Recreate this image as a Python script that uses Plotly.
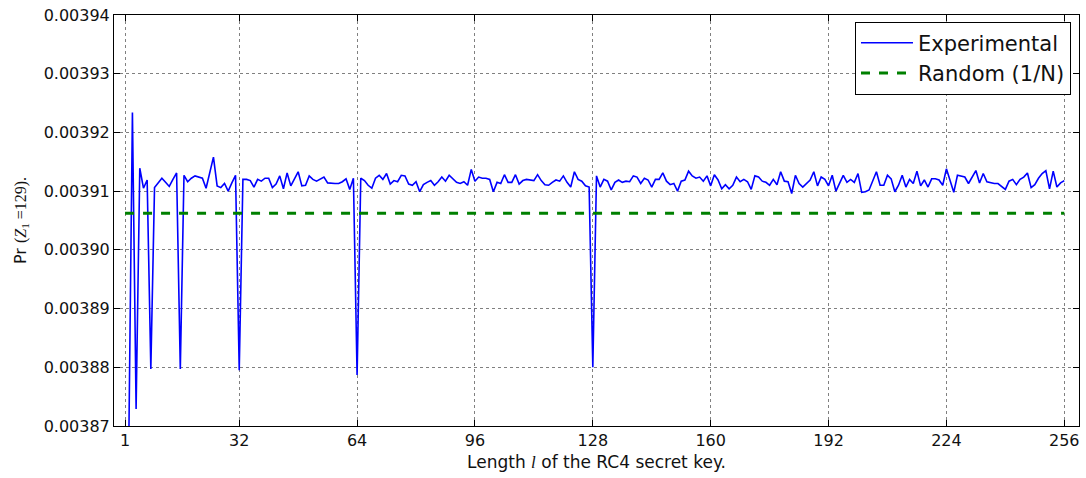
import plotly.graph_objects as go

key_length = list(range(1, 257))

experimental = [
    0.0038620, 0.0038660, 0.0039234, 0.0038729, 0.0039139, 0.0039105, 0.0039119, 0.0038797,
    0.0039106, 0.0039114, 0.0039122, 0.0039115, 0.0039108, 0.0039120, 0.0039131, 0.0038797,
    0.0039127, 0.0039116, 0.0039122, 0.0039126, 0.0039124, 0.0039122, 0.0039105, 0.0039130,
    0.0039158, 0.0039109, 0.0039106, 0.0039113, 0.0039100, 0.0039114, 0.0039127, 0.0038795,
    0.0039120, 0.0039120, 0.0039118, 0.0039107, 0.0039120, 0.0039117, 0.0039122, 0.0039122,
    0.0039106, 0.0039112, 0.0039126, 0.0039104, 0.0039131, 0.0039109, 0.0039120, 0.0039133,
    0.0039109, 0.0039110, 0.0039126, 0.0039120, 0.0039117, 0.0039121, 0.0039124, 0.0039114,
    0.0039113, 0.0039113, 0.0039113, 0.0039116, 0.0039121, 0.0039103, 0.0039122, 0.0038787,
    0.0039122, 0.0039118, 0.0039110, 0.0039105, 0.0039122, 0.0039127, 0.0039120, 0.0039130,
    0.0039112, 0.0039118, 0.0039116, 0.0039127, 0.0039126, 0.0039112, 0.0039110, 0.0039116,
    0.0039099, 0.0039111, 0.0039115, 0.0039118, 0.0039110, 0.0039116, 0.0039124, 0.0039117,
    0.0039127, 0.0039121, 0.0039115, 0.0039113, 0.0039116, 0.0039110, 0.0039137, 0.0039117,
    0.0039124, 0.0039122, 0.0039122, 0.0039120, 0.0039099, 0.0039115, 0.0039113, 0.0039128,
    0.0039115, 0.0039115, 0.0039128, 0.0039112, 0.0039118, 0.0039120, 0.0039119, 0.0039118,
    0.0039128, 0.0039118, 0.0039111, 0.0039110, 0.0039115, 0.0039119, 0.0039117, 0.0039126,
    0.0039115, 0.0039107, 0.0039133, 0.0039120, 0.0039117, 0.0039109, 0.0039107, 0.0038800,
    0.0039126, 0.0039107, 0.0039120, 0.0039117, 0.0039102, 0.0039115, 0.0039119, 0.0039115,
    0.0039117, 0.0039116, 0.0039126, 0.0039124, 0.0039113, 0.0039122, 0.0039119, 0.0039107,
    0.0039120, 0.0039120, 0.0039131, 0.0039117, 0.0039111, 0.0039113, 0.0039100, 0.0039117,
    0.0039119, 0.0039134, 0.0039126, 0.0039122, 0.0039124, 0.0039117, 0.0039126, 0.0039109,
    0.0039128, 0.0039119, 0.0039104, 0.0039111, 0.0039104, 0.0039110, 0.0039124, 0.0039116,
    0.0039120, 0.0039116, 0.0039103, 0.0039126, 0.0039124, 0.0039117, 0.0039115, 0.0039110,
    0.0039120, 0.0039111, 0.0039133, 0.0039117, 0.0039116, 0.0039096, 0.0039127, 0.0039113,
    0.0039107, 0.0039113, 0.0039119, 0.0039133, 0.0039109, 0.0039124, 0.0039120, 0.0039109,
    0.0039127, 0.0039100, 0.0039113, 0.0039127, 0.0039115, 0.0039120, 0.0039115, 0.0039130,
    0.0039098, 0.0039099, 0.0039102, 0.0039117, 0.0039133, 0.0039110, 0.0039110, 0.0039127,
    0.0039121, 0.0039099, 0.0039110, 0.0039127, 0.0039107, 0.0039120, 0.0039113, 0.0039134,
    0.0039109, 0.0039119, 0.0039107, 0.0039121, 0.0039121, 0.0039119, 0.0039110, 0.0039138,
    0.0039118, 0.0039098, 0.0039127, 0.0039126, 0.0039124, 0.0039113, 0.0039124, 0.0039135,
    0.0039114, 0.0039130, 0.0039116, 0.0039114, 0.0039113, 0.0039113, 0.0039108, 0.0039103,
    0.0039117, 0.0039120, 0.0039111, 0.0039120, 0.0039124, 0.0039131, 0.0039106, 0.0039111,
    0.0039122, 0.0039130, 0.0039135, 0.0039104, 0.0039134, 0.0039107, 0.0039114, 0.0039118,
]
assert len(experimental) == len(key_length)

random_level = [1 / 256] * len(key_length)

x_ticks = [1, 32, 64, 96, 128, 160, 192, 224, 256]
y_ticks = [0.00387, 0.00388, 0.00389, 0.00390, 0.00391, 0.00392, 0.00393, 0.00394]
y_tick_text = ["%.5f" % v for v in y_ticks]

fig = go.Figure()
fig.add_trace(go.Scatter(
    x=key_length, y=experimental, mode="lines", name="Experimental",
    line=dict(color="#0000ff", width=1.6),
))
fig.add_trace(go.Scatter(
    x=key_length, y=random_level, mode="lines", name="Random (1/N)",
    line=dict(color="#008000", width=3, dash="9px,9px"),
))

axis_common = dict(
    showline=True, linecolor="black", linewidth=1, mirror="ticks",
    ticks="inside", ticklen=6, tickcolor="black", tickwidth=1,
    showgrid=True, gridcolor="#808080", gridwidth=1, griddash="dot",
    zeroline=False,
    tickfont=dict(family="DejaVu Sans", size=16, color="#111111"),
)

fig.update_layout(
    width=1086, height=478,
    margin=dict(l=114, r=6, t=10, b=52),
    paper_bgcolor="white", plot_bgcolor="white",
    showlegend=True,
    legend=dict(
        x=0.9917, y=0.984, xanchor="right", yanchor="top",
        bgcolor="white", bordercolor="black", borderwidth=1,
        font=dict(family="DejaVu Sans", size=21, color="#111111"),
        tracegroupgap=0, itemwidth=52,
    ),
    xaxis=dict(
        axis_common, range=[-2, 260], tickvals=x_ticks,
        title=dict(
            text='Length <span style="font-family:Liberation Serif"><i>l</i></span> of the RC4 secret key.',
            font=dict(family="DejaVu Sans", size=17, color="#111111"), standoff=6,
        ),
    ),
    yaxis=dict(
        axis_common, range=[0.00387, 0.00394], tickvals=y_ticks, ticktext=y_tick_text,
        title=dict(
            text='Pr <span style="font-family:Liberation Serif">(<i>Z</i><sub>1</sub> =129).</span>',
            font=dict(family="DejaVu Sans", size=16, color="#111111"), standoff=13,
        ),
    ),
)

fig.write_html("out.html")
